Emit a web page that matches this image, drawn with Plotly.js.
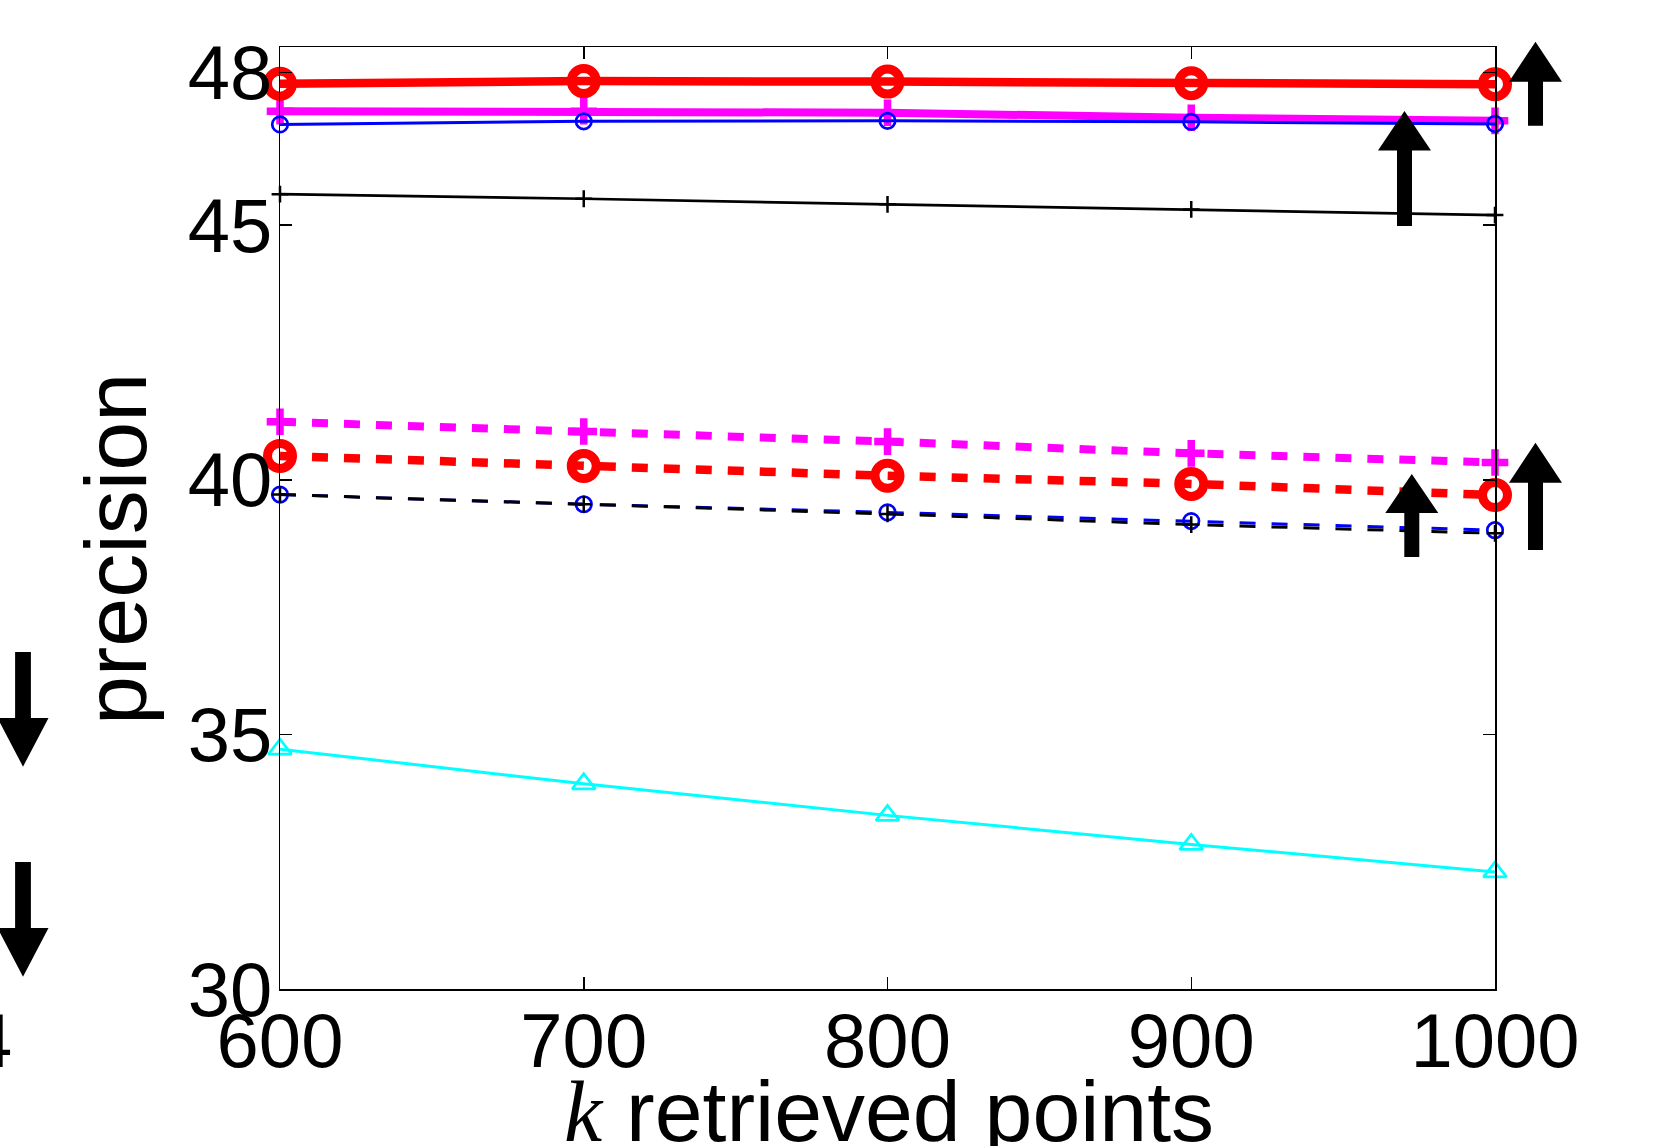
<!DOCTYPE html>
<html>
<head>
<meta charset="utf-8">
<script src="https://cdn.plot.ly/plotly-3.0.1.min.js"></script>
<style>
  html, body { margin: 0; padding: 0; background: #ffffff; }
  #chart { width: 1672px; height: 1146px; }
</style>
</head>
<body>
<div id="chart"></div>
<script>
// ---- data ----
const kValues = [600, 700, 800, 900, 1000];
const xTickLabels = ['600', '700', '800', '900', '1000'];
const yTickValues = [30, 35, 40, 45, 48];
const yTickLabels = ['30', '35', '40', '45', '48'];
const xTitle = '<span style="font-family:Liberation Serif"><i>k</i></span> retrieved points';
const yTitle = 'precision';

const redSolid      = [47.78, 47.83, 47.82, 47.79, 47.77];
const magentaSolid  = [47.24, 47.24, 47.21, 47.11, 47.05];
const blueSolid     = [46.98, 47.04, 47.05, 47.03, 46.99];
const blackSolid    = [45.61, 45.52, 45.41, 45.31, 45.20];
const magentaDashed = [41.14, 40.95, 40.75, 40.52, 40.34];
const redDashed     = [40.47, 40.27, 40.08, 39.92, 39.70];
const blueDashed    = [39.71, 39.52, 39.36, 39.19, 39.01];
const blackDashed   = [39.71, 39.52, 39.33, 39.12, 38.95];
const cyanSolid     = [34.71, 34.03, 33.41, 32.84, 32.30];

// ---- figure geometry ----
const W = 1672, H = 1146;
const M = { l: 280, r: 177, t: 47, b: 157 };
const plotW = W - M.l - M.r, plotH = H - M.t - M.b;
const px2paperX = px => (px - M.l) / plotW;
const px2paperY = py => (H - M.b - py) / plotH;

const DASH = '16px,16px';

function series(name, y, color, width, dash, symbol, size, mlw) {
  return {
    type: 'scatter', mode: 'lines+markers', name: name,
    x: kValues, y: y, cliponaxis: false,
    line: { color: color, width: width, dash: dash },
    marker: { symbol: symbol, size: size, color: color,
              line: { color: color, width: mlw } }
  };
}

const traces = [
  series('cyan solid',     cyanSolid,     '#00ffff', 3,   'solid', 'triangle-up-open', 20, 2.7),
  series('blue dashed',    blueDashed,    '#0000ff', 3,   DASH,    'circle-open',      15.5, 2.7),
  series('black dashed',   blackDashed,   '#000000', 3,   DASH,    'cross-thin-open',  12, 2.5),
  series('magenta dashed', magentaDashed, '#ff00ff', 8,   DASH,    'cross-thin-open',  19, 7.5),
  series('red dashed',     redDashed,     '#ff0000', 8.5, DASH,    'circle-open',      25, 9),
  series('black solid',    blackSolid,    '#000000', 2.7, 'solid', 'cross-thin-open',  12, 2.5),
  series('magenta solid',  magentaSolid,  '#ff00ff', 8,   'solid', 'cross-thin-open',  19, 7.5),
  series('blue solid',     blueSolid,     '#0000ff', 3,   'solid', 'circle-open',      15.5, 2.7),
  series('red solid',      redSolid,      '#ff0000', 8.5, 'solid', 'circle-open',      25, 9)
];

// block arrows (annotation graphics), pixel geometry -> paper coordinates
function upArrow(cx, tip, base, tail, hw, sw) {
  return [[cx, tip], [cx + hw, base], [cx + sw, base], [cx + sw, tail],
          [cx - sw, tail], [cx - sw, base], [cx - hw, base]];
}
function downArrow(cx, tail, base, tip, hw, sw) {
  return [[cx, tip], [cx + hw, base], [cx + sw, base], [cx + sw, tail],
          [cx - sw, tail], [cx - sw, base], [cx - hw, base]];
}
function toPath(pts) {
  return pts.map((p, i) => (i ? 'L' : 'M') + px2paperX(p[0]).toFixed(5) + ',' + px2paperY(p[1]).toFixed(5)).join(' ') + ' Z';
}
const arrowPolys = [
  upArrow(1404.5, 111, 150.5, 226, 26.5, 7.5),
  upArrow(1535.5, 41.7, 81.7, 125.7, 26.5, 7.5),
  upArrow(1411.8, 474, 513, 557, 26.5, 7.5),
  upArrow(1535.5, 442.7, 482.7, 550, 26.5, 7.5),
  downArrow(23, 652, 718, 766.7, 25.5, 7.9),
  downArrow(23, 862, 928, 976.7, 25.5, 7.9)
];
const shapes = arrowPolys.map(p => ({
  type: 'path', xref: 'paper', yref: 'paper', path: toPath(p),
  fillcolor: '#000000', line: { width: 0 }, layer: 'above'
}));

const FONT = 'Liberation Sans, Arial, Helvetica, sans-serif';

const axisCommon = {
  ticks: 'inside', ticklen: 12, tickwidth: 1.5, tickcolor: '#000000',
  showline: true, linecolor: '#000000', linewidth: 1.5, mirror: 'ticks',
  showgrid: false, zeroline: false,
  tickfont: { family: FONT, size: 76, color: '#000000' }
};

const layout = {
  width: W, height: H,
  margin: M,
  paper_bgcolor: '#ffffff', plot_bgcolor: '#ffffff',
  showlegend: false,
  font: { family: FONT, color: '#000000' },
  xaxis: Object.assign({}, axisCommon, {
    range: [600, 1000],
    tickvals: kValues, ticktext: xTickLabels,
    ticklabelstandoff: -15
  }),
  yaxis: Object.assign({}, axisCommon, {
    range: [30, 48.5],
    tickvals: yTickValues, ticktext: yTickLabels,
    ticklabelstandoff: -9
  }),
  shapes: shapes,
  annotations: [
    { // x-axis title
      text: xTitle, xref: 'paper', yref: 'paper',
      x: px2paperX(889), y: px2paperY(1111), xanchor: 'center', yanchor: 'middle',
      showarrow: false, font: { family: FONT, size: 86, color: '#000000' }
    },
    { // y-axis title
      text: yTitle, textangle: -90, xref: 'paper', yref: 'paper',
      x: px2paperX(115), y: px2paperY(549), xanchor: 'center', yanchor: 'middle',
      showarrow: false, font: { family: FONT, size: 88, color: '#000000' }
    },
    { // clipped tick label of a neighbouring panel
      text: '4', xref: 'paper', yref: 'paper',
      x: px2paperX(14), y: px2paperY(1040), xanchor: 'right', yanchor: 'middle',
      showarrow: false, font: { family: FONT, size: 76, color: '#000000' }
    }
  ]
};

Plotly.newPlot('chart', traces, layout, { staticPlot: true, displayModeBar: false });
</script>
</body>
</html>
